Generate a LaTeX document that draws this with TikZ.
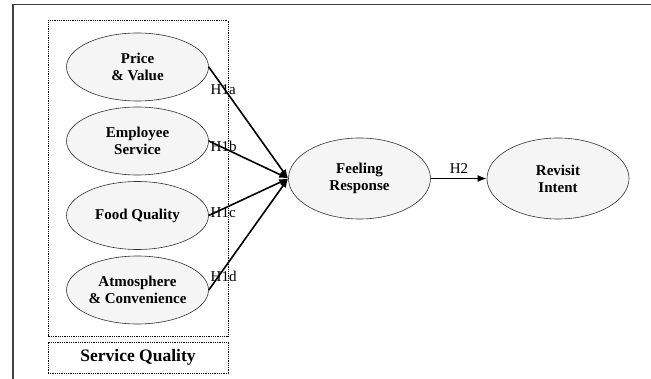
\documentclass[tikz,border=0pt]{standalone}
\usepackage{fontspec}
\setmainfont{Liberation Serif}
\usetikzlibrary{arrows,arrows.meta}
\usetikzlibrary{shapes.geometric}
\tikzset{>={Latex[length=9,width=7]}}
\colorlet{ellfill}{black!4}
\colorlet{framecol}{black!75}
\tikzset{
  construct/.style={ellipse,draw=black!80,fill=ellfill,line width=0.6,
                    minimum width=142,minimum height=#1,inner sep=0,
                    align=center,font=\fontsize{15}{17}\selectfont\bfseries},
  construct/.default=68,
  path arrow/.style={->,line width=1.6,black},
  hyp/.style={font=\fontsize{15}{17}\selectfont,inner sep=0},
  group box/.style={draw,densely dotted,line width=0.8}}

\begin{document}
\begin{tikzpicture}[x=1pt,y=-1pt]
  \useasboundingbox (0,0) rectangle (651,379);
  \def\xl{137.5}  % centre of left constructs
  \def\xf{359.5}  % centre feeling response
  \def\xr{558}    % centre revisit intent
  \def\ym{178.5}  % middle row
  
  % FRAME
  \draw[framecol,line width=1.3] (13,379) -- (13,4.5) -- (651,4.5);
  
  % GROUP
  \draw[group box] (48,20.5) rectangle (228,336);
  \node[group box,minimum width=180,minimum height=31,inner sep=0,
        font=\fontsize{17.5}{19}\selectfont\bfseries] (sq) at (138,357.5) {Service Quality};
  
  % CONSTRUCTS
  \node[construct] (price) at (\xl,67)  {Price\\\& Value};
  \node[construct] (empl)  at (\xl,141) {Employee\\Service};
  \node[construct] (food)  at (\xl,215.5) {Food Quality};
  \node[construct] (atmo)  at (\xl,290) {Atmosphere\\\& Convenience};
  \node[construct=81] (feel) at (\xf,\ym) {Feeling\\Response};
  \node[construct=81] (rev)  at (\xr,\ym) {Revisit\\Intent};
  
  % PATHS
  \draw[path arrow] (price.east) -- (feel.west);
  \draw[path arrow] (empl.east)  -- (feel.west);
  \draw[path arrow] (food.east)  -- (feel.west);
  \draw[path arrow] (atmo.east)  -- (feel.west);
  \draw[path arrow] (feel.east)  -- (rev.west);
  
  % HYPOTHESES
  \node[hyp,anchor=west] (h1a) at (210.5,90)  {H1a};
  \node[hyp,anchor=west] (h1b) at (210.5,146) {H1b};
  \node[hyp,anchor=west] (h1c) at (210.5,213) {H1c};
  \node[hyp,anchor=west] (h1d) at (210.5,276) {H1d};
  \node[hyp] (h2) at (459,169) {H2};
  
\end{tikzpicture}
\end{document}
